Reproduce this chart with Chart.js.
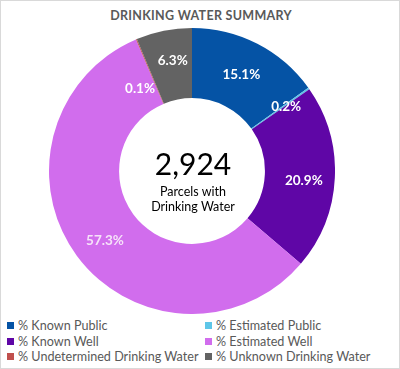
<!DOCTYPE html>
<html>
<head>
<meta charset="utf-8">
<script src="https://cdn.jsdelivr.net/npm/chart.js@4/dist/chart.umd.min.js"></script>
<style>
  html, body { margin: 0; padding: 0; background: #fff; }
  #frame {
    position: relative; width: 400px; height: 369px;
    box-sizing: border-box; border: 1px solid #d9d9d9; overflow: hidden;
    font-family: Lato, "Open Sans", sans-serif;
  }
  #title {
    position: absolute; left: 0; top: 7px; width: 400px; text-align: center;
    font-weight: bold; font-size: 12.5px; color: #595959; letter-spacing: 0.3px;
  }
  #chartWrap { position: absolute; left: 48px; top: 27px; width: 286px; height: 286px; }
  #center {
    position: absolute; left: 112px; top: 147px; width: 160px; text-align: center; color: #000;
  }
  #center .big { font-size: 30px; line-height: 31px; }
  #center .small { font-size: 12.5px; line-height: 15px; margin-top: 5px; }
  #legend {
    position: absolute; left: 6px; top: 317px; width: 392px;
    display: grid; grid-template-columns: 198px 190px; row-gap: 0.5px;
    font-size: 12.6px; color: #595959;
  }
  #legend div { height: 15px; line-height: 15px; white-space: nowrap; }
  #legend span.sw { display: inline-block; width: 7px; height: 7px; margin-right: 4px; vertical-align: 1px; }
</style>
</head>
<body>
<div id="frame">
  <div id="title">DRINKING WATER SUMMARY</div>
  <div id="chartWrap"><canvas id="donut"></canvas></div>
  <div id="center">
    <div class="big" id="total"></div>
    <div class="small">Parcels with<br>Drinking Water</div>
  </div>
  <div id="legend"></div>
</div>
<script>
// Data
const categories = [
    "% Known Public", "% Estimated Public", "% Known Well",
    "% Estimated Well", "% Undetermined Drinking Water", "% Unknown Drinking Water"
];
const shares = [15.1, 0.2, 20.9, 57.3, 0.1, 6.3];
const totalParcels = 2924;

const colors = ["#0553a5", "#5ec6e8", "#5f06a6", "#d16ded", "#c0504d", "#636363"];
// small hand nudges for crowded labels (px)
const labelNudge = [[0, 0], [6, -2], [4, 4], [0, 6], [-10, 17], [2, -5]];

document.getElementById('total').textContent = totalParcels.toLocaleString('en-US');

// legend, two columns
const legend = document.getElementById('legend');
categories.forEach((name, i) => {
    const d = document.createElement('div');
    d.innerHTML = '<span class="sw" style="background:' + colors[i] + '"></span>' + name;
    legend.appendChild(d);
});

const sliceLabels = {
    id: 'sliceLabels',
    afterDatasetsDraw(chart) {
        const ctx = chart.ctx;
        const meta = chart.getDatasetMeta(0);
        ctx.save();
        ctx.font = 'bold 13.5px Lato, "Open Sans", sans-serif';
        ctx.textAlign = 'center';
        ctx.textBaseline = 'middle';
        meta.data.forEach((arc, i) => {
            const p = arc.getCenterPoint();
            ctx.fillStyle = i === 3 ? '#f6e2f9' : '#ffffff';
            ctx.fillText(shares[i].toFixed(1) + '%', p.x + labelNudge[i][0], p.y + labelNudge[i][1]);
        });
        ctx.restore();
    }
};

const ctx = document.getElementById('donut').getContext('2d');
const donutChart = new Chart(ctx, {
    type: 'doughnut',
    data: {
        labels: categories,
        datasets: [{
            data: shares,
            backgroundColor: colors,
            borderWidth: 0
        }]
    },
    options: {
        responsive: true,
        maintainAspectRatio: false,
        animation: false,
        cutout: '51%',
        layout: { padding: 0 },
        plugins: {
            legend: { display: false },
            tooltip: { enabled: false }
        }
    },
    plugins: [sliceLabels]
});
</script>
</body>
</html>
